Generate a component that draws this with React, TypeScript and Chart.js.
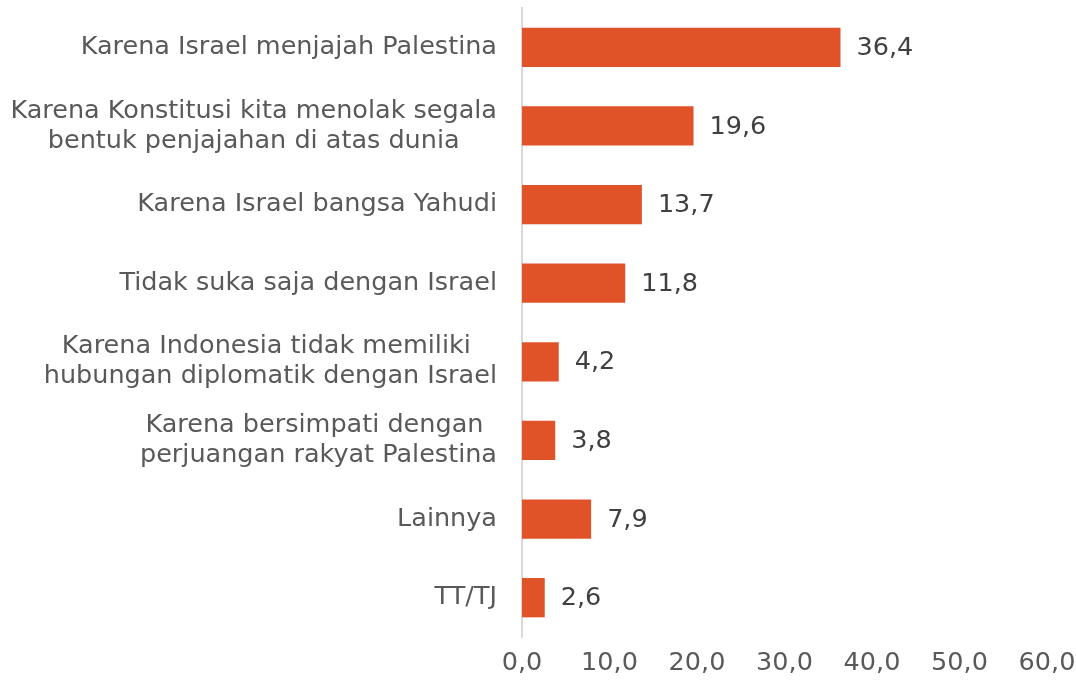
import React, { useEffect, useRef } from 'react';
import { Chart, registerables } from 'chart.js';

Chart.register(...registerables);

const categories: string[][] = [
  ['Karena Israel menjajah Palestina'],
  ['Karena Konstitusi kita menolak segala', 'bentuk penjajahan di atas dunia'],
  ['Karena Israel bangsa Yahudi'],
  ['Tidak suka saja dengan Israel'],
  ['Karena Indonesia tidak memiliki ', 'hubungan diplomatik dengan Israel'],
  ['Karena bersimpati dengan ', 'perjuangan rakyat Palestina'],
  ['Lainnya'],
  ['TT/TJ'],
];
const values: number[] = [36.4, 19.6, 13.7, 11.8, 4.2, 3.8, 7.9, 2.6];
const valueLabels: string[] = ['36,4', '19,6', '13,7', '11,8', '4,2', '3,8', '7,9', '2,6'];
const xTickLabels: string[] = ['0,0', '10,0', '20,0', '30,0', '40,0', '50,0', '60,0'];

const FONT_FAMILY = "'Century Gothic', 'DejaVu Sans', sans-serif";
const FONT_SIZE = 25.5;
const BAR_COLOR = '#E05328';
const TICK_COLOR = '#595959';
const VALUE_COLOR = '#404040';

const labelPlugin = {
  id: 'customLabels',
  afterDraw(chart: any) {
    const ctx = chart.ctx;
    const yScale = chart.scales.y;
    const xScale = chart.scales.x;
    const area = chart.chartArea;
    ctx.save();
    ctx.font = `${FONT_SIZE}px ${FONT_FAMILY}`;
    ctx.textBaseline = 'middle';
    // category labels: right-aligned block, lines centered inside block
    ctx.fillStyle = TICK_COLOR;
    ctx.textAlign = 'center';
    const lineH = 30;
    categories.forEach((lines, i) => {
      const cy = yScale.getPixelForValue(i);
      const maxW = Math.max(...lines.map((l) => ctx.measureText(l).width));
      const cx = area.left - 25 - maxW / 2;
      const startY = cy - ((lines.length - 1) * lineH) / 2;
      lines.forEach((l, j) => {
        ctx.fillText(l, cx, startY + j * lineH);
      });
    });
    // value labels
    ctx.fillStyle = VALUE_COLOR;
    ctx.textAlign = 'left';
    values.forEach((v, i) => {
      const x = xScale.getPixelForValue(v);
      const y = yScale.getPixelForValue(i);
      ctx.fillText(valueLabels[i], x + 16, y + 1);
    });
    ctx.restore();
  },
};

export default function App() {
  const canvasRef = useRef<HTMLCanvasElement | null>(null);

  useEffect(() => {
    document.body.style.margin = '0';
    const canvas = canvasRef.current;
    if (!canvas) return;
    const chart = new Chart(canvas, {
      type: 'bar',
      data: {
        labels: categories.map((c) => c.join(' ')),
        datasets: [
          {
            data: values,
            backgroundColor: BAR_COLOR,
            borderWidth: 0,
            barPercentage: 0.5,
            categoryPercentage: 1,
          },
        ],
      },
      options: {
        indexAxis: 'y',
        animation: false,
        responsive: true,
        maintainAspectRatio: false,
        layout: { padding: { top: 8, right: 29, left: 0, bottom: 0 } },
        plugins: {
          legend: { display: false },
          tooltip: { enabled: false },
        },
        scales: {
          x: {
            min: 0,
            max: 60,
            ticks: {
              stepSize: 10,
              color: TICK_COLOR,
              font: { family: FONT_FAMILY, size: FONT_SIZE },
              padding: 11,
              maxRotation: 0,
              callback: (_v: any, i: number) => xTickLabels[i],
            },
            grid: { display: false, drawTicks: false },
            border: { display: false },
            afterFit: (scale: any) => {
              scale.height = 52;
              scale.paddingLeft = 0;
              scale.paddingRight = 0;
            },
          },
          y: {
            ticks: { display: false },
            grid: { display: false, drawTicks: false },
            border: { display: true, color: '#D9D9D9', width: 2 },
            afterFit: (scale: any) => {
              scale.width = 522;
            },
          },
        },
      },
      plugins: [labelPlugin],
    });
    return () => chart.destroy();
  }, []);

  return (
    <div style={{ width: 1076, height: 689, position: 'relative' }}>
      <canvas ref={canvasRef} />
    </div>
  );
}
